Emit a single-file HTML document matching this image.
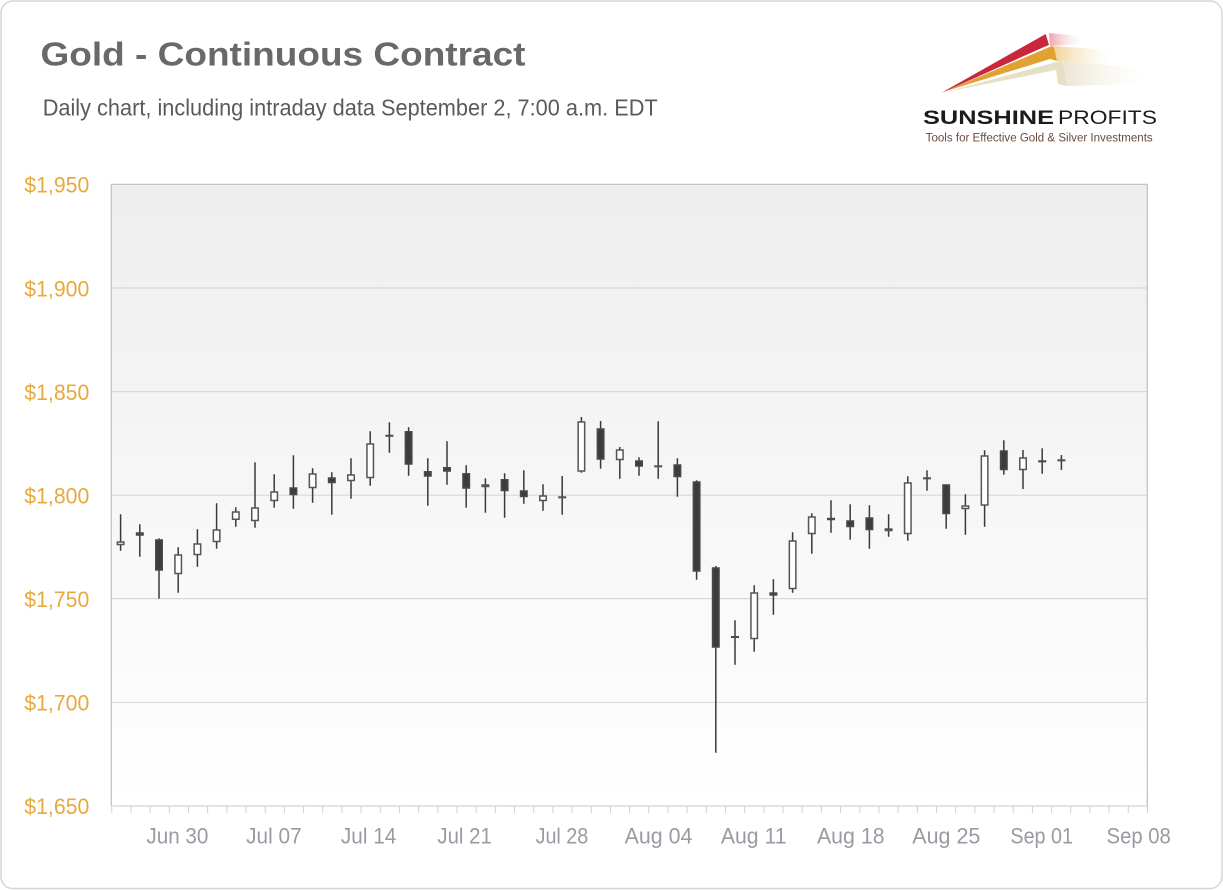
<!DOCTYPE html>
<html>
<head>
<meta charset="utf-8">
<style>
html,body{margin:0;padding:0;background:#fff;}
svg{display:block;}
.yl{font-family:"Liberation Sans",sans-serif;font-size:22px;fill:#e6a93c;}
.xl{font-family:"Liberation Sans",sans-serif;font-size:22px;fill:#9a9aa2;}
</style>
</head>
<body>
<svg width="1223" height="890" viewBox="0 0 1223 890" xmlns="http://www.w3.org/2000/svg">
<defs>
<linearGradient id="bg" x1="0" y1="0" x2="0" y2="1"><stop offset="0" stop-color="#eeeeee"/><stop offset="1" stop-color="#ffffff"/></linearGradient>
<linearGradient id="fr" x1="0" y1="0" x2="1" y2="0"><stop offset="0" stop-color="#d63a4c" stop-opacity="0.45"/><stop offset="1" stop-color="#f2c0c6" stop-opacity="0"/></linearGradient>
<linearGradient id="fg" x1="0" y1="0" x2="1" y2="0"><stop offset="0" stop-color="#e3a53a" stop-opacity="0.5"/><stop offset="1" stop-color="#f5dca8" stop-opacity="0"/></linearGradient>
<linearGradient id="fb" x1="0" y1="0" x2="1" y2="0"><stop offset="0" stop-color="#e6dfc8" stop-opacity="0.8"/><stop offset="1" stop-color="#f3efe3" stop-opacity="0"/></linearGradient>
<pattern id="tk" x="111.25" y="806" width="19.18" height="7" patternUnits="userSpaceOnUse"><rect x="0" y="0" width="1" height="7" fill="#cfcfcf"/></pattern>
</defs>
<rect x="1" y="1" width="1221" height="887.5" rx="12" ry="12" fill="#fff" stroke="#d6d6d6" stroke-width="1.5"/>
<text x="40.5" y="65.7" font-family="'Liberation Sans',sans-serif" font-size="33" font-weight="bold" fill="#6b6868" textLength="485" lengthAdjust="spacingAndGlyphs">Gold - Continuous Contract</text>
<text x="42.7" y="115.7" font-family="'Liberation Sans',sans-serif" font-size="23.5" fill="#5d5959" textLength="615" lengthAdjust="spacingAndGlyphs">Daily chart, including intraday data September 2, 7:00 a.m. EDT</text>
<polygon points="1049,33 1082,36 1082,44 1050,46" fill="url(#fr)"/>
<polygon points="1054,46 1110,50 1110,64 1057,61" fill="url(#fg)"/>
<polygon points="1063,61 1142,68 1142,84 1067,86" fill="url(#fb)"/>
<polygon points="946,92 1060,61 1063,62 1067,86 1058,84 1056,70" fill="#e6dfc6"/>
<polygon points="943,92 1052,46 1054,47 1057,61 1050,59" fill="#e0a232"/>
<polygon points="941.5,92.7 1045.7,34 1049,45 1044,47 948,90" fill="#c9283b"/>
<text x="923" y="124" font-family="'Liberation Sans',sans-serif" font-size="19.5" font-weight="bold" fill="#1c1c1c" textLength="131" lengthAdjust="spacingAndGlyphs">SUNSHINE</text>
<text x="1058" y="124" font-family="'Liberation Sans',sans-serif" font-size="19.5" fill="#1c1c1c" textLength="99" lengthAdjust="spacingAndGlyphs">PROFITS</text>
<text x="925.7" y="141.3" font-family="'Liberation Sans',sans-serif" font-size="11.5" fill="#6e4a3c" textLength="227" lengthAdjust="spacingAndGlyphs">Tools for Effective Gold &amp; Silver Investments</text>
<rect x="111.3" y="184.4" width="1036" height="621.6" fill="url(#bg)"/>
<path d="M111.3 288H1147.3M111.3 391.6H1147.3M111.3 495.2H1147.3M111.3 598.6H1147.3M111.3 702.3H1147.3" stroke="#d9d9d9" stroke-width="1.2" fill="none"/>
<polyline points="111.3,806 111.3,184.4 1147.3,184.4 1147.3,806" fill="none" stroke="#c4c4c4" stroke-width="1.3"/>
<line x1="111.3" x2="1147.3" y1="806" y2="806" stroke="#d2d2d2" stroke-width="1.3"/>
<rect x="111.25" y="806" width="1037" height="7" fill="url(#tk)"/>
<text class="yl" x="24.3" y="192.7" textLength="65" lengthAdjust="spacingAndGlyphs">$1,950</text>
<text class="yl" x="24.3" y="296.3" textLength="65" lengthAdjust="spacingAndGlyphs">$1,900</text>
<text class="yl" x="24.3" y="399.9" textLength="65" lengthAdjust="spacingAndGlyphs">$1,850</text>
<text class="yl" x="24.3" y="503.5" textLength="65" lengthAdjust="spacingAndGlyphs">$1,800</text>
<text class="yl" x="24.3" y="607.0" textLength="65" lengthAdjust="spacingAndGlyphs">$1,750</text>
<text class="yl" x="24.3" y="710.6" textLength="65" lengthAdjust="spacingAndGlyphs">$1,700</text>
<text class="yl" x="24.3" y="814.2" textLength="65" lengthAdjust="spacingAndGlyphs">$1,650</text>
<text class="xl" x="177.4" y="843.3" text-anchor="middle" textLength="62" lengthAdjust="spacingAndGlyphs">Jun 30</text>
<text class="xl" x="273.9" y="843.3" text-anchor="middle" textLength="55.5" lengthAdjust="spacingAndGlyphs">Jul 07</text>
<text class="xl" x="368.6" y="843.3" text-anchor="middle" textLength="55.4" lengthAdjust="spacingAndGlyphs">Jul 14</text>
<text class="xl" x="464.6" y="843.3" text-anchor="middle" textLength="54.4" lengthAdjust="spacingAndGlyphs">Jul 21</text>
<text class="xl" x="561.9" y="843.3" text-anchor="middle" textLength="52.6" lengthAdjust="spacingAndGlyphs">Jul 28</text>
<text class="xl" x="658.5" y="843.3" text-anchor="middle" textLength="67.7" lengthAdjust="spacingAndGlyphs">Aug 04</text>
<text class="xl" x="753.7" y="843.3" text-anchor="middle" textLength="65.7" lengthAdjust="spacingAndGlyphs">Aug 11</text>
<text class="xl" x="850.8" y="843.3" text-anchor="middle" textLength="67.7" lengthAdjust="spacingAndGlyphs">Aug 18</text>
<text class="xl" x="946.3" y="843.3" text-anchor="middle" textLength="68.1" lengthAdjust="spacingAndGlyphs">Aug 25</text>
<text class="xl" x="1041.7" y="843.3" text-anchor="middle" textLength="62.6" lengthAdjust="spacingAndGlyphs">Sep 01</text>
<text class="xl" x="1138.7" y="843.3" text-anchor="middle" textLength="64.3" lengthAdjust="spacingAndGlyphs">Sep 08</text>
<path stroke="#3a3a3a" stroke-width="1.5" fill="none" d="M120.6 514.3V550.7M139.8 524.3V556.7M159 538.3V598.7M178.2 547.3V592.7M197.4 529.3V566.7M216.6 503.3V548.7M235.8 507.3V526.7M255 462.3V527.7M274.2 474.3V507.7M293.4 455.3V508.7M312.6 468.3V502.7M331.8 472.3V514.7M351 458.3V498.7M370.2 431.3V485.7M389.4 422.3V452.7M408.6 427.3V475.7M427.8 458.3V505.7M447 441.3V484.7M466.2 465.3V507.7M485.4 478.3V512.7M504.6 473.3V517.7M523.8 470.3V503.7M543 484.3V510.7M562.2 476V514.7M581.4 417V472.7M600.6 421V468.7M619.8 447V478.7M639 457.3V475.7M658.2 421.3V478.7M677.4 458.3V496.7M696.6 480.3V579.7M715.8 566V752.7M735 620.3V664.7M754.2 585.3V651.7M773.4 579.3V614.7M792.6 532.3V592.7M811.8 513.3V553.7M831 500.3V532.7M850.2 504.3V539.7M869.4 505.3V548.7M888.6 514.3V536.7M907.8 476.3V540.7M927 470.3V490.7M946.2 484.3V528.7M965.4 494.3V534.7M984.6 450.3V526.7M1003.8 440.3V474.7M1023 450V489M1042.2 448.3V473.7M1061.4 455V470"/>
<path fill="#ffffff" stroke="#555555" stroke-width="1.5" d="M117.35 542.05h6.5v2.5h-6.5zM174.95 555.05h6.5v18.5h-6.5zM194.15 544.05h6.5v10.5h-6.5zM213.35 530.05h6.5v11.5h-6.5zM232.55 512.05h6.5v7.2h-6.5zM251.75 508.05h6.5v12.5h-6.5zM270.95 492.05h6.5v8.5h-6.5zM309.35 474.05h6.5v13.5h-6.5zM347.75 475.05h6.5v5.5h-6.5zM366.95 444.05h6.5v33.5h-6.5zM482.15 485.05h6.5v1.5h-6.5zM539.75 496.05h6.5v4.5h-6.5zM558.95 497.05h6.5v0.6h-6.5zM578.15 422.05h6.5v48.9h-6.5zM616.55 450.05h6.5v9.5h-6.5zM654.95 466.05h6.5v0.6h-6.5zM750.95 593.05h6.5v45.5h-6.5zM789.35 541.05h6.5v47.5h-6.5zM808.55 517.05h6.5v16.5h-6.5zM885.35 529.05h6.5v1.5h-6.5zM904.55 483.05h6.5v50.5h-6.5zM923.75 478.05h6.5v0.6h-6.5zM962.15 506.05h6.5v2.5h-6.5zM981.35 456.05h6.5v48.9h-6.5zM1019.75 458.05h6.5v11.5h-6.5zM1058.15 460.05h6.5v0.6h-6.5z"/>
<path fill="#3c3c3c" stroke="#4a4a4a" stroke-width="1.5" d="M136.55 533.05h6.5v1.9h-6.5zM155.75 540.05h6.5v29.9h-6.5zM290.15 488.05h6.5v6.5h-6.5zM328.55 478.05h6.5v4.5h-6.5zM386.15 435.45h6.5v0.6h-6.5zM405.35 431.75h6.5v32.2h-6.5zM424.55 471.75h6.5v4.2h-6.5zM443.75 467.75h6.5v3.2h-6.5zM462.95 473.75h6.5v14.2h-6.5zM501.35 479.75h6.5v10.8h-6.5zM520.55 491.05h6.5v5.5h-6.5zM597.35 429.05h6.5v29.9h-6.5zM635.75 461.05h6.5v4.9h-6.5zM674.15 465.05h6.5v11.5h-6.5zM693.35 482.05h6.5v88.9h-6.5zM712.55 568.05h6.5v78.9h-6.5zM731.75 636.7h6.5v0.5h-6.5zM770.15 593.05h6.5v1.9h-6.5zM827.75 518.45h6.5v1.1h-6.5zM846.95 521.05h6.5v5.5h-6.5zM866.15 518.05h6.5v11.5h-6.5zM942.95 485.05h6.5v28.5h-6.5zM1000.55 451.05h6.5v18.5h-6.5zM1038.95 461.05h6.5v0.6h-6.5z"/>
</svg>
</body>
</html>
